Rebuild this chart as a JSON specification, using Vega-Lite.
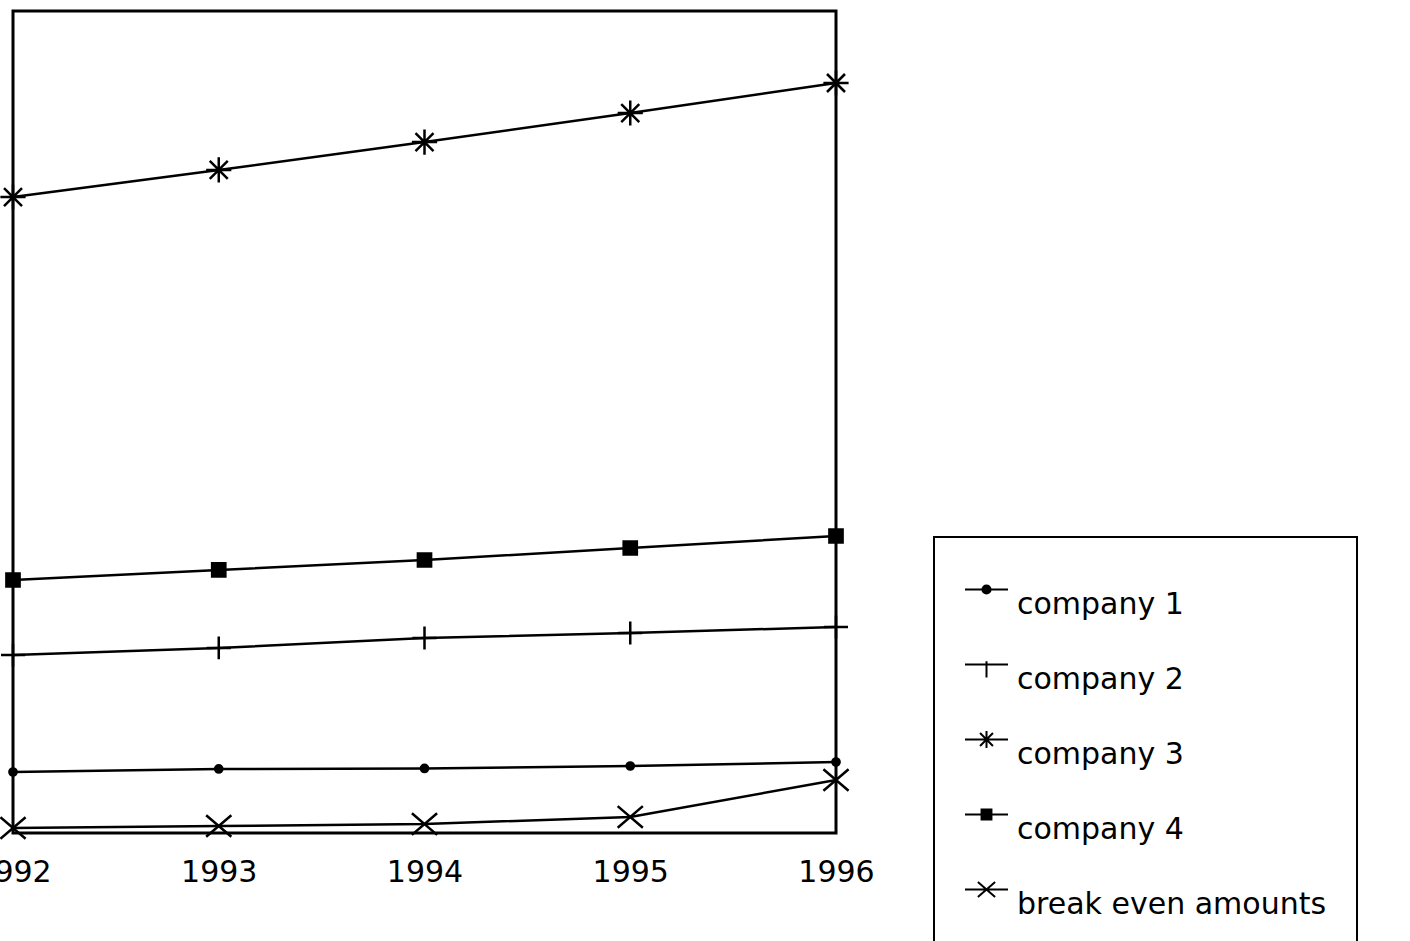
{
  "$schema": "https://vega.github.io/schema/vega-lite/v6.json",
  "width": 823,
  "height": 822,
  "autosize": {"type": "none"},
  "padding": {"left": 13, "top": 11, "right": 574, "bottom": 108},
  "background": "white",
  "config": {
    "view": {"stroke": "black", "strokeWidth": 3},
    "font": "DejaVu Sans",
    "axis": {"labelFont": "DejaVu Sans", "labelColor": "black"},
    "legend": {"labelFont": "DejaVu Sans", "labelColor": "black", "strokeWidth": 2}
  },
  "data": {
    "values": [
      {"year": 1992, "series": "company 1", "value": 7.42},
      {"year": 1993, "series": "company 1", "value": 7.79},
      {"year": 1994, "series": "company 1", "value": 7.85},
      {"year": 1995, "series": "company 1", "value": 8.15},
      {"year": 1996, "series": "company 1", "value": 8.64},
      {"year": 1992, "series": "company 2", "value": 21.65},
      {"year": 1993, "series": "company 2", "value": 22.51},
      {"year": 1994, "series": "company 2", "value": 23.72},
      {"year": 1995, "series": "company 2", "value": 24.33},
      {"year": 1996, "series": "company 2", "value": 25.06},
      {"year": 1992, "series": "company 3", "value": 77.37},
      {"year": 1993, "series": "company 3", "value": 80.66},
      {"year": 1994, "series": "company 3", "value": 84.06},
      {"year": 1995, "series": "company 3", "value": 87.59},
      {"year": 1996, "series": "company 3", "value": 91.24},
      {"year": 1992, "series": "company 4", "value": 30.78},
      {"year": 1993, "series": "company 4", "value": 32.0},
      {"year": 1994, "series": "company 4", "value": 33.21},
      {"year": 1995, "series": "company 4", "value": 34.67},
      {"year": 1996, "series": "company 4", "value": 36.13},
      {"year": 1992, "series": "break even amounts", "value": 0.61},
      {"year": 1993, "series": "break even amounts", "value": 0.85},
      {"year": 1994, "series": "break even amounts", "value": 1.09},
      {"year": 1995, "series": "break even amounts", "value": 1.95},
      {"year": 1996, "series": "break even amounts", "value": 6.45}
    ]
  },
  "encoding": {
    "x": {
      "field": "year",
      "type": "quantitative",
      "scale": {"domain": [1992, 1996], "nice": false, "zero": false},
      "axis": {
        "title": null,
        "values": [1992, 1993, 1994, 1995, 1996],
        "format": "d",
        "grid": false,
        "ticks": false,
        "tickSize": 0,
        "domain": false,
        "labelFontSize": 30,
        "labelPadding": 24,
        "labelFlush": false,
        "labelOverlap": false
      }
    },
    "y": {
      "field": "value",
      "type": "quantitative",
      "scale": {"domain": [0, 100], "nice": false},
      "axis": null
    }
  },
  "layer": [
    {
      "mark": {"type": "line", "color": "black", "strokeWidth": 2.5},
      "encoding": {"detail": {"field": "series"}}
    },
    {
      "mark": {"type": "point", "filled": true, "fill": "black", "stroke": "black", "size": 3600, "strokeWidth": 2.5, "opacity": 1},
      "encoding": {
        "shape": {
          "field": "series",
          "type": "nominal",
          "scale": {
            "domain": ["company 1", "company 2", "company 3", "company 4", "break even amounts"],
            "range": [
              "M0.12,0A0.12,0.12 0 1,1 -0.12,0A0.12,0.12 0 1,1 0.12,0Z",
              "M-0.4,0H0.4M0,-0.38V0.38",
              "M-0.42,0H0.42M0,-0.42V0.42M-0.3,-0.3L0.3,0.3M-0.3,0.3L0.3,-0.3",
              "M-0.22,-0.22H0.22V0.22H-0.22Z",
              "M-0.42,-0.36L0.42,0.36M-0.42,0.36L0.42,-0.36"
            ]
          },
          "legend": null
        }
      }
    },
    {
      "mark": {"type": "point", "filled": false, "color": "black", "stroke": "black", "fill": "black", "size": 1, "strokeWidth": 2, "opacity": 1},
      "encoding": {
        "shape": {
          "field": "series",
          "type": "nominal",
          "scale": {
            "domain": ["company 1", "company 2", "company 3", "company 4", "break even amounts"],
            "range": [
              "M-1,0H1M0.19,0A0.19,0.19 0 1,1 -0.19,0A0.19,0.19 0 1,1 0.19,0Z",
              "M-1,0H1M0,-0.15V0.6",
              "M-1,0H1M0,-0.4V0.4M-0.3,-0.3L0.3,0.3M-0.3,0.3L0.3,-0.3",
              "M-1,0H1M-0.23,-0.23H0.23V0.23H-0.23Z",
              "M-1,0H1M-0.4,-0.35L0.4,0.35M-0.4,0.35L0.4,-0.35"
            ]
          },
          "legend": {
            "title": null,
            "orient": "none",
            "legendX": 921,
            "legendY": 526,
            "padding": 30,
            "strokeColor": "black",
            "fillColor": "white",
            "symbolSize": 1849,
            "symbolStrokeWidth": 2,
            "symbolOpacity": 1,
            "labelFontSize": 30,
            "labelBaseline": "top",
            "labelOffset": 8,
            "labelLimit": 600,
            "rowPadding": 22
          }
        }
      }
    }
  ],
  "resolve": {"scale": {"shape": "independent"}}
}
